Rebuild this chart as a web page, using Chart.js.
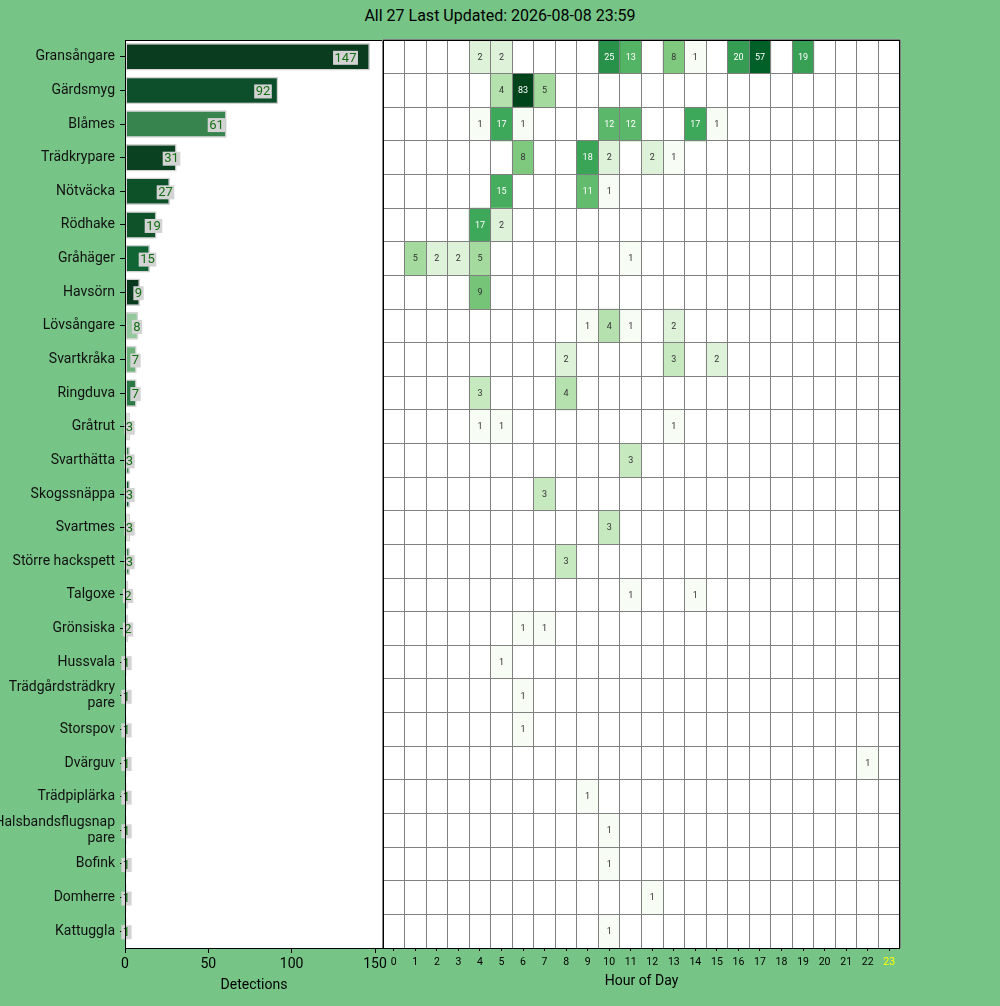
<!DOCTYPE html>
<html>
<head>
<meta charset="utf-8">
<script src="https://cdn.jsdelivr.net/npm/chart.js@4"></script>
<style>
  html, body { margin: 0; padding: 0; background: #76c486; }
  #wrap { position: relative; width: 1000px; height: 1006px; overflow: hidden; }
  #title { position: absolute; top: 6px; left: 0; width: 1000px; line-height: 20px; text-align: center;
           font: 16px Roboto, sans-serif; color: #000; }
  #barBox { position: absolute; left: 0; top: 0; width: 400px; height: 1006px; }
  #heatBox { position: absolute; left: 370px; top: 0; width: 630px; height: 1006px; }
</style>
</head>
<body>
<div id="wrap">
  <div id="title">All 27 Last Updated: 2026-08-08 23:59</div>
  <div id="barBox"><canvas id="barChart"></canvas></div>
  <div id="heatBox"><canvas id="heatChart"></canvas></div>
</div>
<script>
// species in plot order (top to bottom)
const speciesNames = ['Gransångare', 'Gärdsmyg', 'Blåmes', 'Trädkrypare', 'Nötväcka', 'Rödhake', 'Gråhäger',
    'Havsörn', 'Lövsångare', 'Svartkråka', 'Ringduva', 'Gråtrut', 'Svarthätta', 'Skogssnäppa', 'Svartmes',
    'Större hackspett', 'Talgoxe', 'Grönsiska', 'Hussvala', 'Trädgårdsträdkrypare', 'Storspov', 'Dvärguv',
    'Trädpiplärka', 'Halsbandsflugsnappare', 'Bofink', 'Domherre', 'Kattuggla'];

// tick labels as drawn (two long names are wrapped)
const speciesLabels = speciesNames.map(n =>
    n === 'Trädgårdsträdkrypare' ? ['Trädgårdsträdkry', 'pare'] :
    n === 'Halsbandsflugsnappare' ? ['Halsbandsflugsnap', 'pare'] : n);

// total detections per species
const totals = [147, 92, 61, 31, 27, 19, 15, 9, 8, 7, 7, 3, 3, 3, 3, 3, 2, 2, 1, 1, 1, 1, 1, 1, 1, 1, 1];

const hours = [0, 1, 2, 3, 4, 5, 6, 7, 8, 9, 10, 11, 12, 13, 14, 15, 16, 17, 18, 19, 20, 21, 22, 23];

// [species, hour, detections]
const heatCells = [
    ['Gransångare', 4, 2], ['Gransångare', 5, 2], ['Gransångare', 10, 25], ['Gransångare', 11, 13],
    ['Gransångare', 13, 8], ['Gransångare', 14, 1], ['Gransångare', 16, 20], ['Gransångare', 17, 57],
    ['Gransångare', 19, 19],
    ['Gärdsmyg', 5, 4], ['Gärdsmyg', 6, 83], ['Gärdsmyg', 7, 5],
    ['Blåmes', 4, 1], ['Blåmes', 5, 17], ['Blåmes', 6, 1], ['Blåmes', 10, 12], ['Blåmes', 11, 12],
    ['Blåmes', 14, 17], ['Blåmes', 15, 1],
    ['Trädkrypare', 6, 8], ['Trädkrypare', 9, 18], ['Trädkrypare', 10, 2], ['Trädkrypare', 12, 2],
    ['Trädkrypare', 13, 1],
    ['Nötväcka', 5, 15], ['Nötväcka', 9, 11], ['Nötväcka', 10, 1],
    ['Rödhake', 4, 17], ['Rödhake', 5, 2],
    ['Gråhäger', 1, 5], ['Gråhäger', 2, 2], ['Gråhäger', 3, 2], ['Gråhäger', 4, 5], ['Gråhäger', 11, 1],
    ['Havsörn', 4, 9],
    ['Lövsångare', 9, 1], ['Lövsångare', 10, 4], ['Lövsångare', 11, 1], ['Lövsångare', 13, 2],
    ['Svartkråka', 8, 2], ['Svartkråka', 13, 3], ['Svartkråka', 15, 2],
    ['Ringduva', 4, 3], ['Ringduva', 8, 4],
    ['Gråtrut', 4, 1], ['Gråtrut', 5, 1], ['Gråtrut', 13, 1],
    ['Svarthätta', 11, 3],
    ['Skogssnäppa', 7, 3],
    ['Svartmes', 10, 3],
    ['Större hackspett', 8, 3],
    ['Talgoxe', 11, 1], ['Talgoxe', 14, 1],
    ['Grönsiska', 6, 1], ['Grönsiska', 7, 1],
    ['Hussvala', 5, 1],
    ['Trädgårdsträdkrypare', 6, 1],
    ['Storspov', 6, 1],
    ['Dvärguv', 22, 1],
    ['Trädpiplärka', 9, 1],
    ['Halsbandsflugsnappare', 10, 1],
    ['Bofink', 10, 1],
    ['Domherre', 12, 1],
    ['Kattuggla', 10, 1]
];

// bar fill colours, one per species
const barColors = ['#0a3c1f', '#0e4f2b', '#37844f', '#0a4221', '#0d5129', '#0f522a', '#116434', '#0a3a1d',
    '#92c89c', '#6db27a', '#2b7a45', '#cfe8cc', '#3b8a51', '#0d5a2c', '#d5ecd2', '#3b8a51', '#c8e4c5',
    '#eef7ec', '#e6f2e4', '#e6f2e4', '#e6f2e4', '#e6f2e4', '#e6f2e4', '#e6f2e4', '#e6f2e4', '#e6f2e4', '#e6f2e4'];

Chart.defaults.font.family = 'Roboto, sans-serif';
Chart.defaults.color = '#000';

// matplotlib "Greens" colormap, log scaled from 1 to the max count
const greenStops = ['#f7fcf5', '#e5f5e0', '#c7e9c0', '#a1d99b', '#74c476', '#41ab5d', '#238b45', '#006d2c', '#00441b'];
const maxCount = Math.max(...heatCells.map(c => c[2]));
function norm(n) { return Math.log(n) / Math.log(maxCount); }
function hexRgb(h) { return [1, 3, 5].map(i => parseInt(h.substr(i, 2), 16)); }
function greens(t) {
    t = Math.min(Math.max(t, 0), 1);
    const pos = t * (greenStops.length - 1);
    const i = Math.min(Math.floor(pos), greenStops.length - 2);
    const f = pos - i;
    const a = hexRgb(greenStops[i]), b = hexRgb(greenStops[i + 1]);
    const c = a.map((v, k) => Math.round(v + (b[k] - v) * f));
    return `rgb(${c[0]},${c[1]},${c[2]})`;
}

// white plot area + black frame, like matplotlib spines
const framePlugin = {
    id: 'frame',
    beforeDraw(chart) {
        const { ctx, chartArea: a } = chart;
        ctx.save();
        ctx.fillStyle = '#fff';
        ctx.fillRect(a.left, a.top, a.right - a.left, a.bottom - a.top);
        ctx.restore();
    },
    afterDraw(chart) {
        const { ctx, chartArea: a } = chart;
        ctx.save();
        ctx.strokeStyle = '#000';
        ctx.lineWidth = 1;
        ctx.strokeRect(Math.round(a.left) + 0.5, Math.round(a.top) + 0.5,
            Math.round(a.right - a.left) - 1, Math.round(a.bottom - a.top));
        ctx.restore();
    }
};

// value labels on the bars (grey box, green text)
const barLabelPlugin = {
    id: 'barLabels',
    afterDatasetsDraw(chart) {
        const { ctx, scales: { x, y } } = chart;
        ctx.save();
        ctx.font = '13px Roboto, sans-serif';
        ctx.textAlign = 'center';
        ctx.textBaseline = 'middle';
        totals.forEach((v, i) => {
            const px = x.getPixelForValue(v * 0.9);
            const py = y.getPixelForValue(i) + 1;
            const w = ctx.measureText(String(v)).width + 3;
            ctx.fillStyle = '#d3d3d3';
            ctx.fillRect(px - w / 2, py - 7, w, 14);
            ctx.fillStyle = '#126f12';
            ctx.fillText(String(v), px, py + 0.5);
        });
        ctx.restore();
    }
};

new Chart(document.getElementById('barChart'), {
    type: 'bar',
    data: {
        labels: speciesLabels,
        datasets: [{
            data: totals,
            backgroundColor: barColors,
            borderColor: '#d3d3d3',
            borderWidth: 1.5,
            borderSkipped: false,
            barPercentage: 0.82,
            categoryPercentage: 1
        }]
    },
    options: {
        indexAxis: 'y',
        responsive: true,
        maintainAspectRatio: false,
        animation: false,
        layout: { padding: { top: 40, right: 17, left: 0, bottom: 0 } },
        plugins: { legend: { display: false }, tooltip: { enabled: false } },
        scales: {
            x: {
                min: 0,
                max: 154.8,
                ticks: { stepSize: 50, includeBounds: false, font: { size: 14 }, padding: 3 },
                grid: { drawOnChartArea: false, tickLength: 5, color: '#000' },
                border: { display: false },
                title: { display: true, text: 'Detections', font: { size: 14 }, padding: { top: 4, bottom: 12 } },
                afterFit: s => { s.height = 58; }
            },
            y: {
                ticks: { font: { size: 14, lineHeight: 1.15 }, padding: 5, color: '#111', autoSkip: false },
                grid: { drawOnChartArea: false, offset: false, tickLength: 5, color: '#000' },
                border: { display: false },
                afterFit: s => { s.width = 125; }
            }
        }
    },
    plugins: [framePlugin, barLabelPlugin]
});

// heatmap: one floating-bar dataset per hour
const heatDatasets = hours.map(h => {
    const counts = speciesNames.map(s => {
        const c = heatCells.find(e => e[0] === s && e[1] === h);
        return c ? c[2] : 0;
    });
    return {
        data: counts.map(n => n > 0 ? [h - 0.5, h + 0.5] : null),
        backgroundColor: counts.map(n => n > 0 ? greens(norm(n)) : '#fff'),
        borderWidth: 0,
        grouped: false,
        barPercentage: 1,
        categoryPercentage: 1
    };
});

const cellTextPlugin = {
    id: 'cellText',
    afterDraw(chart) {
        const { ctx, scales: { x, y } } = chart;
        ctx.save();
        ctx.font = '9px Roboto, sans-serif';
        ctx.textAlign = 'center';
        ctx.textBaseline = 'middle';
        heatCells.forEach(([name, h, n]) => {
            const row = speciesNames.indexOf(name);
            ctx.fillStyle = norm(n) > 0.5 ? '#fff' : '#333';
            ctx.fillText(String(n), x.getPixelForValue(h), y.getPixelForValue(row) + 0.5);
        });
        ctx.restore();
    }
};

const hourTicks = s => { s.ticks = hours.map(h => ({ value: h })); };

new Chart(document.getElementById('heatChart'), {
    type: 'bar',
    data: { labels: speciesLabels, datasets: heatDatasets },
    options: {
        indexAxis: 'y',
        responsive: true,
        maintainAspectRatio: false,
        animation: false,
        layout: { padding: { top: 40, right: 100, left: 13, bottom: 0 } },
        plugins: { legend: { display: false }, tooltip: { enabled: false } },
        scales: {
            x: {
                type: 'linear',
                position: 'bottom',
                min: -0.5,
                max: 23.5,
                afterBuildTicks: hourTicks,
                ticks: {
                    font: { size: 10.5 },
                    padding: 5,
                    autoSkip: false,
                    maxRotation: 0,
                    color: c => (c.tick && c.tick.value === 23) ? '#ffff00' : '#000'
                },
                grid: { drawOnChartArea: false, tickLength: 3, color: '#000' },
                border: { display: false },
                title: { display: true, text: 'Hour of Day', font: { size: 14 }, padding: { top: 2, bottom: 16 } },
                afterFit: s => { s.height = 58; }
            },
            xGrid: {
                type: 'linear',
                position: 'top',
                min: -0.5,
                max: 23.5,
                afterBuildTicks: hourTicks,
                ticks: { display: false },
                grid: { offset: true, drawTicks: false, color: '#808080', lineWidth: 1, z: 1 },
                border: { display: false },
                afterFit: s => { s.height = 0; }
            },
            y: {
                ticks: { display: false, autoSkip: false },
                grid: { offset: true, drawTicks: false, color: '#808080', lineWidth: 1, z: 1 },
                border: { display: false },
                afterFit: s => { s.width = 0; }
            }
        }
    },
    plugins: [framePlugin, cellTextPlugin]
});
</script>
</body>
</html>
